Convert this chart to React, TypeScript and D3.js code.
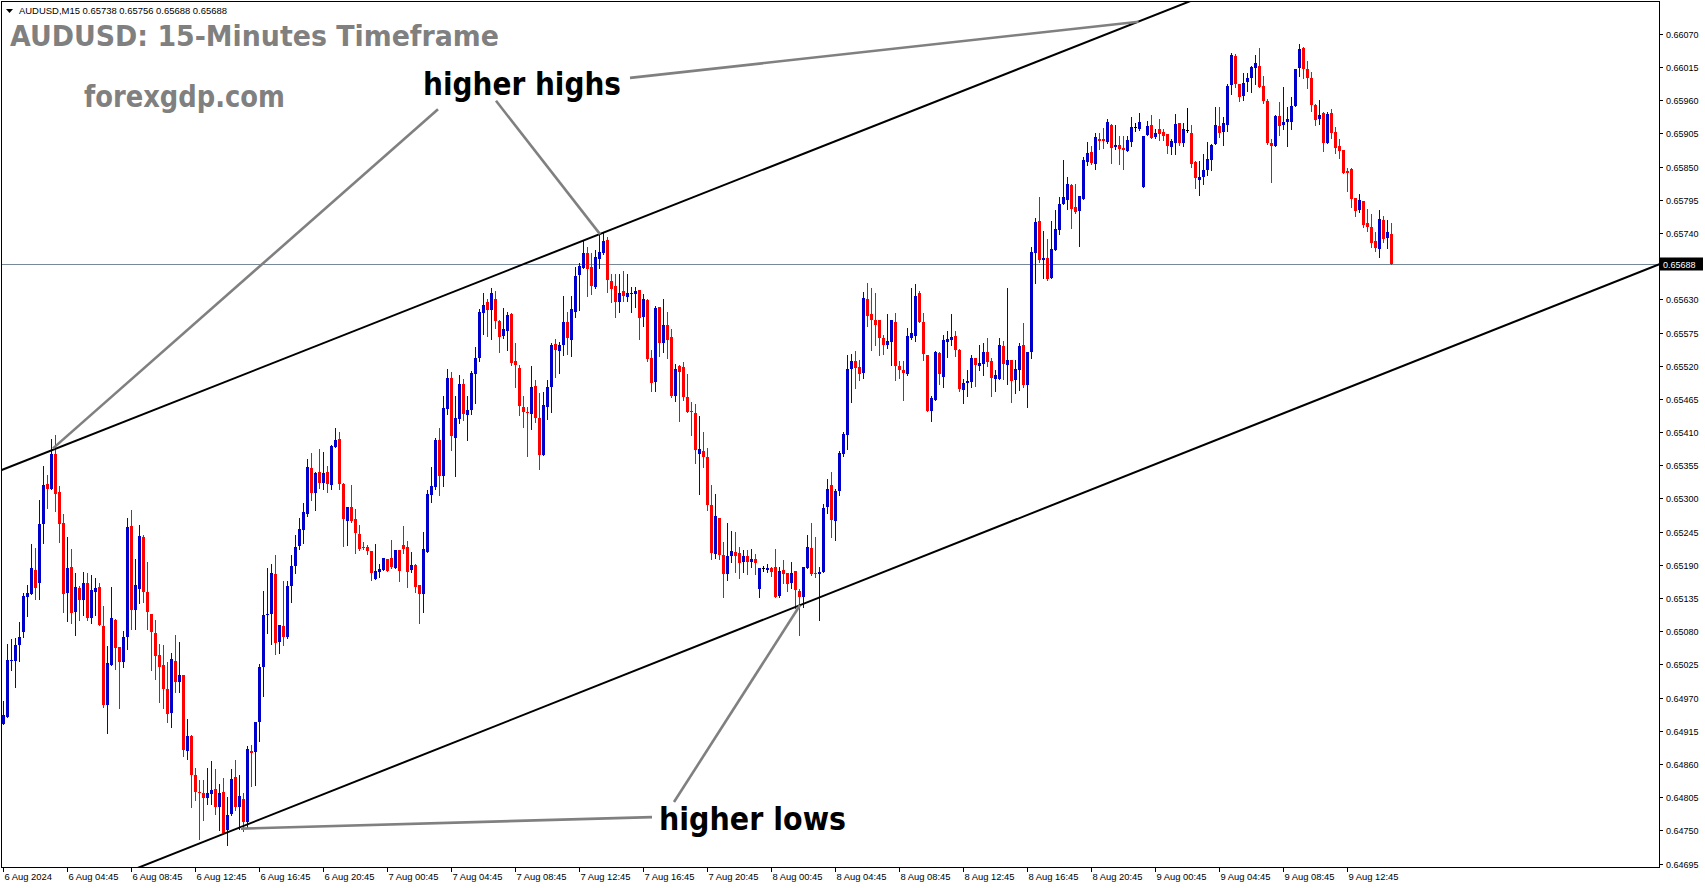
import * as d3 from "d3";

const WIDTH = 1705;
const HEIGHT = 888;
const PLOT = { left: 2, top: 2, right: 1659, bottom: 867 };
const VISIBLE_BARS = 414;

// AUDUSD M15, 6 Aug 2024 00:45 .. 9 Aug 15:30, prices in points (price x 100000)
const openPts = [
  64927, 64938, 65030, 65030, 65057, 65078, 65136, 65142, 65182, 65160,
  65258, 65324, 65315, 65374, 65311, 65259, 65144, 65186, 65112, 65152,
  65132, 65160, 65102, 65145, 65153, 65089, 64958, 65024, 65099, 65054,
  65029, 65070, 65254, 65115, 65150, 65236, 65145, 65109, 65077, 65041,
  65024, 64985, 64945, 65031, 64996, 65008, 64882, 64906, 64842, 64814,
  64812, 64803, 64811, 64819, 64788, 64814, 64750, 64778, 64839, 64788,
  64802, 64764, 64881, 64880, 64929, 65021, 65107, 65109, 65175, 65063,
  65089, 65071, 65155, 65188, 65221, 65248, 65274, 65350, 65309, 65344,
  65325, 65344, 65323, 65386, 65398, 65324, 65263, 65286, 65266, 65241,
  65219, 65219, 65213, 65167, 65179, 65182, 65200, 65201, 65185, 65214,
  65223, 65219, 65182, 65189, 65157, 65142, 65212, 65306, 65319, 65397,
  65337, 65448, 65500, 65400, 65432, 65490, 65439, 65447, 65506, 65533,
  65607, 65626, 65612, 65631, 65594, 65569, 65578, 65606, 65528, 65516,
  65452, 65444, 65440, 65487, 65434, 65372, 65452, 65485, 65556, 65545,
  65555, 65593, 65563, 65609, 65670, 65682, 65707, 65684, 65651, 65697,
  65707, 65728, 65660, 65652, 65626, 65644, 65634, 65639, 65639, 65646,
  65601, 65629, 65533, 65493, 65617, 65558, 65588, 65568, 65469, 65520,
  65518, 65468, 65445, 65442, 65374, 65379, 65369, 65289, 65208, 65268,
  65206, 65175, 65205, 65211, 65210, 65195, 65205, 65195, 65200, 65150,
  65185, 65182, 65185, 65186, 65138, 65181, 65176, 65160, 65180, 65147,
  65137, 65184, 65218, 65177, 65175, 65178, 65286, 65322, 65263, 65312,
  65374, 65405, 65514, 65528, 65518, 65508, 65630, 65605, 65596, 65596,
  65566, 65555, 65560, 65593, 65519, 65513, 65507, 65566, 65569, 65641,
  65592, 65538, 65445, 65463, 65541, 65502, 65560, 65563, 65569, 65546,
  65480, 65491, 65493, 65532, 65519, 65523, 65542, 65528, 65498, 65498,
  65552, 65522, 65529, 65497, 65513, 65554, 65488, 65542, 65707, 65760,
  65695, 65699, 65665, 65711, 65745, 65788, 65795, 65819, 65783, 65776,
  65797, 65858, 65874, 65855, 65895, 65895, 65890, 65919, 65883, 65885,
  65880, 65876, 65891, 65915, 65912, 65816, 65903, 65919, 65899, 65913,
  65907, 65904, 65883, 65889, 65922, 65889, 65910, 65905, 65857, 65828,
  65833, 65844, 65861, 65888, 65917, 65907, 65919, 65985, 66033, 65987,
  65967, 65990, 65997, 66014, 66016, 65983, 65958, 65889, 65884, 65934,
  65919, 65924, 65924, 65950, 66013, 66046, 66011, 65996, 65952, 65929,
  65938, 65889, 65938, 65908, 65884, 65877, 65843, 65846, 65798, 65778,
  65793, 65756, 65750, 65727, 65714, 65761, 65732, 65738,
];

const highPts = [
  64964, 65059, 65067, 65068, 65095, 65144, 65157, 65225, 65218, 65298,
  65354, 65339, 65399, 65405, 65321, 65274, 65236, 65216, 65177, 65155,
  65178, 65177, 65173, 65168, 65160, 65122, 65055, 65153, 65100, 65054,
  65081, 65267, 65281, 65200, 65256, 65240, 65195, 65109, 65099, 65059,
  65057, 65029, 65044, 65074, 65062, 65008, 64935, 64908, 64853, 64833,
  64833, 64853, 64865, 64852, 64827, 64837, 64805, 64851, 64867, 64842,
  64812, 64890, 64891, 64929, 65026, 65146, 65185, 65191, 65206, 65090,
  65163, 65163, 65207, 65239, 65267, 65292, 65365, 65375, 65344, 65382,
  65377, 65354, 65388, 65417, 65410, 65325, 65286, 65322, 65282, 65256,
  65228, 65223, 65213, 65224, 65192, 65201, 65200, 65231, 65214, 65214,
  65254, 65230, 65211, 65192, 65157, 65244, 65314, 65352, 65400, 65417,
  65470, 65515, 65510, 65470, 65505, 65498, 65470, 65512, 65551, 65614,
  65641, 65631, 65649, 65644, 65596, 65616, 65609, 65607, 65558, 65522,
  65470, 65452, 65520, 65497, 65475, 65477, 65497, 65558, 65564, 65559,
  65636, 65609, 65636, 65684, 65690, 65728, 65717, 65707, 65712, 65737,
  65740, 65733, 65672, 65672, 65672, 65677, 65672, 65651, 65651, 65646,
  65639, 65631, 65546, 65619, 65617, 65631, 65609, 65581, 65523, 65521,
  65526, 65506, 65460, 65457, 65437, 65410, 65384, 65322, 65307, 65268,
  65228, 65259, 65246, 65244, 65219, 65214, 65214, 65216, 65208, 65185,
  65188, 65191, 65187, 65216, 65187, 65198, 65176, 65195, 65180, 65150,
  65186, 65239, 65259, 65236, 65186, 65291, 65332, 65344, 65316, 65379,
  65410, 65538, 65539, 65544, 65529, 65642, 65657, 65649, 65640, 65596,
  65571, 65606, 65596, 65607, 65528, 65527, 65582, 65649, 65655, 65644,
  65608, 65538, 65469, 65545, 65543, 65571, 65578, 65605, 65577, 65548,
  65498, 65513, 65537, 65532, 65554, 65557, 65566, 65532, 65513, 65566,
  65561, 65649, 65529, 65529, 65557, 65591, 65542, 65716, 65765, 65799,
  65744, 65730, 65760, 65778, 65799, 65861, 65832, 65821, 65821, 65801,
  65866, 65890, 65884, 65905, 65905, 65914, 65929, 65920, 65919, 65900,
  65900, 65901, 65932, 65922, 65938, 65900, 65925, 65936, 65913, 65929,
  65913, 65904, 65896, 65937, 65922, 65922, 65947, 65919, 65859, 65859,
  65871, 65890, 65887, 65948, 65948, 65932, 65987, 66038, 66036, 65987,
  66005, 66005, 66016, 66035, 66046, 66000, 65962, 65895, 65935, 65957,
  65982, 65948, 65965, 66011, 66053, 66048, 66025, 66006, 65953, 65960,
  65940, 65940, 65945, 65915, 65895, 65877, 65847, 65847, 65798, 65804,
  65793, 65779, 65771, 65742, 65778, 65768, 65761, 65756,
];

const lowPts = [
  64927, 64938, 65016, 64988, 65031, 65071, 65106, 65141, 65133, 65134,
  65227, 65284, 65315, 65280, 65228, 65112, 65097, 65093, 65074, 65099,
  65107, 65098, 65094, 65107, 65091, 64954, 64912, 65024, 65018, 64953,
  65020, 65050, 65084, 65083, 65126, 65128, 65084, 65016, 65001, 64962,
  64953, 64930, 64922, 64980, 64980, 64874, 64869, 64789, 64801, 64736,
  64768, 64794, 64794, 64778, 64750, 64746, 64725, 64776, 64783, 64753,
  64749, 64754, 64823, 64826, 64898, 64973, 65077, 65059, 65043, 65044,
  65058, 65068, 65129, 65177, 65217, 65227, 65271, 65298, 65281, 65317,
  65316, 65311, 65316, 65385, 65316, 65222, 65223, 65261, 65210, 65215,
  65216, 65208, 65165, 65167, 65170, 65182, 65180, 65185, 65185, 65164,
  65210, 65154, 65179, 65145, 65094, 65112, 65212, 65294, 65316, 65306,
  65321, 65440, 65380, 65338, 65425, 65430, 65397, 65440, 65458, 65527,
  65573, 65569, 65564, 65583, 65543, 65566, 65546, 65521, 65485, 65438,
  65419, 65370, 65415, 65427, 65349, 65372, 65432, 65443, 65501, 65508,
  65538, 65540, 65536, 65601, 65612, 65682, 65636, 65639, 65649, 65682,
  65705, 65642, 65626, 65601, 65609, 65627, 65627, 65609, 65617, 65564,
  65586, 65528, 65478, 65478, 65536, 65543, 65533, 65468, 65462, 65429,
  65463, 65443, 65405, 65358, 65308, 65353, 65281, 65200, 65201, 65200,
  65137, 65165, 65195, 65178, 65169, 65179, 65175, 65187, 65175, 65137,
  65180, 65179, 65172, 65137, 65137, 65160, 65147, 65152, 65118, 65073,
  65121, 65184, 65173, 65170, 65098, 65178, 65276, 65237, 65232, 65306,
  65370, 65382, 65460, 65483, 65497, 65499, 65585, 65546, 65555, 65538,
  65540, 65550, 65522, 65497, 65499, 65464, 65505, 65565, 65561, 65593,
  65529, 65445, 65429, 65463, 65490, 65485, 65535, 65554, 65536, 65478,
  65458, 65470, 65484, 65487, 65513, 65504, 65520, 65470, 65478, 65498,
  65498, 65490, 65460, 65475, 65480, 65485, 65452, 65533, 65657, 65692,
  65666, 65662, 65665, 65711, 65738, 65788, 65780, 65748, 65773, 65719,
  65797, 65853, 65855, 65846, 65879, 65881, 65889, 65856, 65879, 65855,
  65846, 65876, 65884, 65909, 65910, 65816, 65903, 65898, 65898, 65894,
  65894, 65873, 65871, 65871, 65886, 65884, 65908, 65850, 65815, 65803,
  65821, 65836, 65845, 65888, 65899, 65886, 65909, 65971, 65982, 65959,
  65961, 65975, 65974, 65987, 65982, 65955, 65887, 65825, 65884, 65903,
  65912, 65884, 65912, 65950, 66000, 65997, 65980, 65942, 65919, 65921,
  65876, 65889, 65898, 65873, 65864, 65840, 65810, 65783, 65768, 65775,
  65750, 65743, 65717, 65710, 65700, 65725, 65715, 65688,
];

const closePts = [
  64941, 65032, 65032, 65057, 65070, 65138, 65143, 65185, 65152, 65258,
  65322, 65315, 65374, 65308, 65258, 65142, 65185, 65111, 65153, 65132,
  65160, 65102, 65148, 65152, 65091, 64958, 65027, 65102, 65052, 65029,
  65070, 65253, 65115, 65157, 65238, 65145, 65112, 65078, 65039, 65021,
  64985, 64943, 65034, 64996, 65008, 64884, 64906, 64841, 64814, 64812,
  64803, 64812, 64817, 64789, 64812, 64746, 64776, 64836, 64789, 64807,
  64764, 64885, 64879, 64929, 65021, 65107, 65108, 65176, 65061, 65090,
  65070, 65155, 65188, 65219, 65249, 65277, 65352, 65309, 65343, 65325,
  65342, 65324, 65387, 65397, 65324, 65266, 65286, 65263, 65243, 65217,
  65218, 65213, 65177, 65180, 65183, 65201, 65180, 65186, 65214, 65180,
  65216, 65179, 65190, 65154, 65142, 65216, 65307, 65320, 65397, 65337,
  65450, 65500, 65403, 65433, 65490, 65440, 65446, 65508, 65533, 65609,
  65621, 65612, 65641, 65594, 65567, 65581, 65604, 65525, 65521, 65453,
  65443, 65441, 65485, 65434, 65372, 65455, 65485, 65555, 65546, 65555,
  65593, 65566, 65614, 65669, 65685, 65707, 65680, 65652, 65700, 65709,
  65727, 65662, 65647, 65626, 65641, 65636, 65641, 65641, 65644, 65599,
  65631, 65531, 65492, 65616, 65558, 65588, 65563, 65469, 65515, 65510,
  65468, 65443, 65443, 65381, 65382, 65369, 65289, 65209, 65271, 65206,
  65175, 65205, 65213, 65205, 65193, 65205, 65195, 65200, 65193, 65185,
  65185, 65185, 65179, 65137, 65180, 65175, 65159, 65176, 65149, 65137,
  65186, 65219, 65175, 65175, 65178, 65284, 65316, 65265, 65312, 65375,
  65407, 65514, 65528, 65516, 65506, 65632, 65603, 65596, 65587, 65566,
  65555, 65561, 65596, 65519, 65513, 65508, 65569, 65574, 65635, 65593,
  65539, 65445, 65466, 65543, 65506, 65562, 65565, 65567, 65546, 65481,
  65491, 65494, 65532, 65521, 65524, 65542, 65526, 65500, 65504, 65554,
  65523, 65529, 65495, 65515, 65552, 65488, 65542, 65708, 65758, 65695,
  65699, 65663, 65713, 65746, 65788, 65799, 65821, 65779, 65774, 65801,
  65861, 65873, 65856, 65899, 65892, 65892, 65924, 65881, 65885, 65879,
  65878, 65894, 65915, 65915, 65924, 65900, 65917, 65898, 65906, 65904,
  65900, 65884, 65892, 65920, 65889, 65912, 65910, 65854, 65831, 65832,
  65844, 65862, 65885, 65919, 65906, 65922, 65983, 66035, 65987, 65966,
  65988, 65996, 66015, 66021, 65982, 65958, 65889, 65884, 65934, 65918,
  65924, 65929, 65950, 66011, 66045, 66012, 65997, 65952, 65927, 65935,
  65889, 65937, 65906, 65881, 65876, 65840, 65840, 65797, 65776, 65794,
  65753, 65750, 65724, 65715, 65763, 65730, 65741, 65688,
];

const priceTicks = [
  0.6607, 0.66015, 0.6596, 0.65905, 0.6585, 0.65795, 0.6574, 0.6563, 0.65575,
  0.6552, 0.65465, 0.6541, 0.65355, 0.653, 0.65245, 0.6519, 0.65135, 0.6508,
  0.65025, 0.6497, 0.64915, 0.6486, 0.64805, 0.6475, 0.64695,
];

const timeLabels = [
  "6 Aug 2024", "6 Aug 04:45", "6 Aug 08:45", "6 Aug 12:45", "6 Aug 16:45",
  "6 Aug 20:45", "7 Aug 00:45", "7 Aug 04:45", "7 Aug 08:45", "7 Aug 12:45",
  "7 Aug 16:45", "7 Aug 20:45", "8 Aug 00:45", "8 Aug 04:45", "8 Aug 08:45",
  "8 Aug 12:45", "8 Aug 16:45", "8 Aug 20:45", "9 Aug 00:45", "9 Aug 04:45",
  "9 Aug 08:45", "9 Aug 12:45",
];
const timeLabelBars = [
  0, 16, 32, 48, 64, 80, 96, 112, 128, 144, 160, 176, 192, 208, 224, 240, 256,
  272, 288, 304, 320, 336,
];

// channel trend lines, anchors as [bar, price]
const upperChannel = [[0, 0.65348], [296, 0.66122]];
const lowerChannel = [[34.5, 0.6469], [414, 0.65688]];

// gray pointer lines from the labels, [bar, price] -> [bar, price]
const pointers = [
  [[156.75, 0.65997], [283.9, 0.6609]],
  [[108.75, 0.65945], [12.5, 0.65383]],
  [[123.25, 0.65959], [149.25, 0.65738]],
  [[162.25, 0.64772], [59.5, 0.64753]],
  [[167.75, 0.64797], [199.25, 0.65123]],
];

const BULL = "#0000CD";
const BEAR = "#FF0000";
const GRAY = "#808080";
const AXIS_FONT = "'Liberation Sans', Arial, sans-serif";
const LABEL_FONT = "'DejaVu Sans', Verdana, sans-serif";

const pt = (v: number) => v / 1e5;

export default function App() {
  const x = d3.scaleLinear().domain([0, VISIBLE_BARS]).range([3, PLOT.right]);
  const y = d3.scaleLinear().domain([0.64695, 0.6607]).range([863.6, 33.8]);

  const extend = (a: number[][]) => {
    const [b0, p0] = a[0];
    const [b1, p1] = a[1];
    const at = (b: number) => p0 + ((p1 - p0) * (b - b0)) / (b1 - b0);
    return { x1: x(-20), y1: y(at(-20)), x2: x(VISIBLE_BARS + 5), y2: y(at(VISIBLE_BARS + 5)) };
  };

  const last = closePts.length - 1;
  const fmt = (v: number) => pt(v).toFixed(5);
  const header = `AUDUSD,M15  ${fmt(openPts[last])} ${fmt(highPts[last])} ${fmt(lowPts[last])} ${fmt(closePts[last])}`;
  const lastY = Math.round(y(pt(closePts[last]))) + 0.5;

  const up = extend(upperChannel);
  const lo = extend(lowerChannel);

  return (
    <svg
      width={WIDTH}
      height={HEIGHT}
      style={{ position: "fixed", left: 0, top: 0, background: "#fff" }}
    >
      <defs>
        <clipPath id="plot">
          <rect x={PLOT.left} y={PLOT.top} width={PLOT.right - PLOT.left} height={PLOT.bottom - PLOT.top} />
        </clipPath>
      </defs>
      <rect width={WIDTH} height={HEIGHT} fill="#fff" />

      {/* bid line */}
      <line x1={PLOT.left} x2={PLOT.right} y1={lastY} y2={lastY} stroke="#778899" strokeWidth={1} />

      {/* candles */}
      <g shapeRendering="crispEdges">
        {closePts.map((c, i) => {
          const o = openPts[i];
          const cx = Math.round(x(i));
          const color = c > o ? BULL : c < o ? BEAR : "#000";
          const yo = Math.round(y(pt(o)));
          const yc = Math.round(y(pt(c)));
          const yh = Math.round(y(pt(highPts[i])));
          const yl = Math.round(y(pt(lowPts[i])));
          const top = Math.min(yo, yc);
          const bot = Math.max(yo, yc);
          return (
            <g key={i} fill={color}>
              <rect x={cx} y={yh} width={1} height={yl - yh + 1} />
              <rect x={cx - 1} y={top} width={3} height={Math.max(1, bot - top)} />
            </g>
          );
        })}
      </g>

      {/* channel lines */}
      <g clipPath="url(#plot)" stroke="#000" strokeWidth={2}>
        <line {...up} />
        <line {...lo} />
      </g>

      {/* pointers */}
      <g stroke={GRAY} strokeWidth={2.6} strokeLinecap="butt">
        {pointers.map(([a, b], i) => (
          <line key={i} x1={x(a[0])} y1={y(a[1])} x2={x(b[0])} y2={y(b[1])} />
        ))}
      </g>

      {/* frame */}
      <rect
        x={PLOT.left - 0.5}
        y={PLOT.top - 0.5}
        width={PLOT.right - PLOT.left + 1}
        height={PLOT.bottom - PLOT.top + 1}
        fill="none"
        stroke="#000"
        strokeWidth={1}
        shapeRendering="crispEdges"
      />

      {/* price axis */}
      <g fontFamily={AXIS_FONT} fontSize={9} fill="#000">
        {priceTicks.map((p) => {
          const ty = Math.round(y(p)) + 0.5;
          return (
            <g key={p}>
              <line x1={PLOT.right + 0.5} x2={PLOT.right + 4} y1={ty} y2={ty} stroke="#000" />
              <text x={PLOT.right + 7} y={ty + 3.3}>{p.toFixed(5)}</text>
            </g>
          );
        })}
        <rect x={PLOT.right + 1} y={lastY - 7} width={43} height={13} fill="#000" />
        <text x={PLOT.right + 4} y={lastY + 3.3} fill="#fff">{fmt(closePts[last])}</text>
      </g>

      {/* time axis */}
      <g fontFamily={AXIS_FONT} fontSize={9.4} fill="#000">
        {timeLabels.map((t, i) => {
          const tx = Math.round(x(timeLabelBars[i])) + 0.5;
          return (
            <g key={t}>
              <line x1={tx} x2={tx} y1={PLOT.bottom + 0.5} y2={PLOT.bottom + 5} stroke="#000" />
              <text x={tx + 1} y={PLOT.bottom + 13}>{t}</text>
            </g>
          );
        })}
      </g>

      {/* header */}
      <path d="M6,9 L13,9 L9.5,13 Z" fill="#000" />
      <text x={19} y={14} fontFamily={AXIS_FONT} fontSize={9.5} textLength={208} lengthAdjust="spacingAndGlyphs">
        {header}
      </text>

      {/* titles and annotations */}
      <g fontFamily={LABEL_FONT} fontWeight="bold">
        <text x={10} y={46} fontSize={29} fill={GRAY} textLength={489} lengthAdjust="spacingAndGlyphs">
          AUDUSD: 15-Minutes Timeframe
        </text>
        <text x={84} y={107} fontSize={30} fill={GRAY} textLength={201} lengthAdjust="spacingAndGlyphs">
          forexgdp.com
        </text>
        <text x={423} y={95} fontSize={32} fill="#000" textLength={198} lengthAdjust="spacingAndGlyphs">
          higher highs
        </text>
        <text x={659} y={830} fontSize={32} fill="#000" textLength={187} lengthAdjust="spacingAndGlyphs">
          higher lows
        </text>
      </g>
    </svg>
  );
}
